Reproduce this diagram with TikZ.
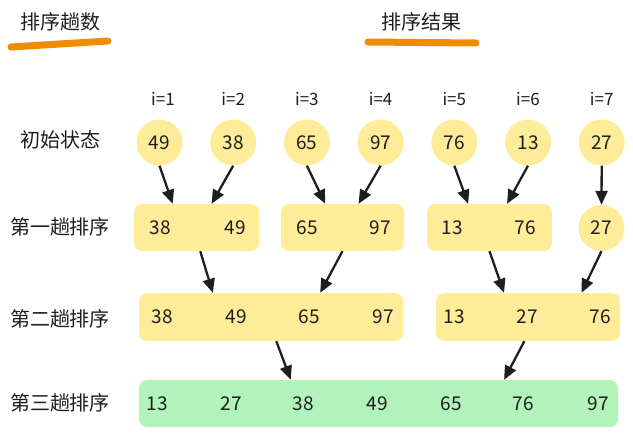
\documentclass[tikz,border=0pt]{standalone}
\usepackage{fontspec}
\setmainfont{Noto Sans CJK SC}
\usetikzlibrary{arrows.meta,calc}
\definecolor{ink}{HTML}{1E1E1E}
\definecolor{runyellow}{HTML}{FFEC99}
\definecolor{donegreen}{HTML}{B2F2BB}
\definecolor{marker}{HTML}{F08C00}

\begin{document}
\begin{tikzpicture}[x=1pt,y=-1pt,
    ball/.style={circle,fill=runyellow,minimum size=46pt,inner sep=0pt,
      font=\fontsize{19}{19}\selectfont,text=ink},
    run/.style={rounded corners=8pt,fill=runyellow,minimum height=47pt,inner sep=0pt},
    num/.style={inner sep=0pt,font=\fontsize{19}{19}\selectfont,text=ink},
    idx/.style={inner sep=0pt,font=\fontsize{17}{17}\selectfont,text=ink},
    lbl/.style={inner sep=0pt,font=\fontsize{20}{20}\selectfont,text=ink},
    hl/.style={draw=marker,line width=7pt,line cap=round},
    arr/.style={draw=ink,line width=2.3pt,-{Triangle[length=14pt,width=12pt]}}]
  \useasboundingbox (0,0) rectangle (633,436);

  \node[lbl] (tpass) at (60,22) {排序趟数};
  \node[lbl] (tres) at (421,22) {排序结果};
  \draw[hl] (11,47) -- (108,41);
  \draw[hl] (368,42) -- (476,43);

  \node[lbl] (l0) at (60,140) {初始状态};
  \node[lbl] (l1) at (60,227) {第一趟排序};
  \node[lbl] (l2) at (60,319) {第二趟排序};
  \node[lbl] (l3) at (60,403) {第三趟排序};

  \foreach \x/\v [count=\k] in {163/1,233.2/2,306.9/3,380.6/4,454.3/5,528/6,601.7/7}
    \node[idx] (i\k) at (\x,99) {i=\v};

  \node[ball] (c1) at (159.5,142.5) {49};
  \node[ball] (c2) at (233.2,142.5) {38};
  \node[ball] (c3) at (306.9,142.5) {65};
  \node[ball] (c4) at (380.6,142.5) {97};
  \node[ball] (c5) at (454.3,142.5) {76};
  \node[ball] (c6) at (528,142.5) {13};
  \node[ball] (c7) at (601.7,142.5) {27};

  \node[run,minimum width=125pt] (r1a) at (196.5,227.5) {};
  \node[run,minimum width=123pt] (r1b) at (342.5,227.5) {};
  \node[run,minimum width=125pt] (r1c) at (489.5,227.5) {};
  \node[ball] (r1d) at (601.5,228) {27};
  \foreach \x/\v [count=\k] in {160/38,235/49,307/65,380/97,452/13,525/76}
    \node[num] (s1\k) at (\x,227.5) {\v};

  \node[run,minimum width=264pt,minimum height=48pt] (r2a) at (271,317) {};
  \node[run,minimum width=184pt,minimum height=48pt] (r2b) at (528,317) {};
  \foreach \x/\v [count=\k] in {162/38,236/49,309/65,383/97,454/13,527/27,600/76}
    \node[num] (s2\k) at (\x,317) {\v};

  \node[run,fill=donegreen,minimum width=479pt] (r3) at (378.5,403.5) {};
  \foreach \x/\v [count=\k] in {157/13,231/27,303/38,377/49,451/65,523/76,598/97}
    \node[num] (s3\k) at (\x,403.5) {\v};

  \draw[arr] (c1.south) -- ($(r1a.north west)!.31!(r1a.north east)$);
  \draw[arr] (c2.south) -- ($(r1a.north west)!.62!(r1a.north east)$);
  \draw[arr] (c3.south) -- ($(r1b.north west)!.36!(r1b.north east)$);
  \draw[arr] (c4.south) -- ($(r1b.north west)!.63!(r1b.north east)$);
  \draw[arr] (c5.south) -- ($(r1c.north west)!.33!(r1c.north east)$);
  \draw[arr] (c6.south) -- ($(r1c.north west)!.64!(r1c.north east)$);
  \draw[arr] (c7.south) -- (r1d.north);

  \draw[arr] ($(r1a.south west)!.53!(r1a.south east)$) -- ($(r2a.north west)!.28!(r2a.north east)$);
  \draw[arr] (r1b.south) -- ($(r2a.north west)!.686!(r2a.north east)$);
  \draw[arr] (r1c.south) -- ($(r2b.north west)!.37!(r2b.north east)$);
  \draw[arr] (r1d.south) -- ($(r2b.north west)!.79!(r2b.north east)$);

  \draw[arr] ($(r2a.south west)!.52!(r2a.south east)$) -- ($(r3.north west)!.317!(r3.north east)$);
  \draw[arr] ($(r2b.south west)!.48!(r2b.south east)$) -- ($(r3.north west)!.762!(r3.north east)$);
\end{tikzpicture}
\end{document}
